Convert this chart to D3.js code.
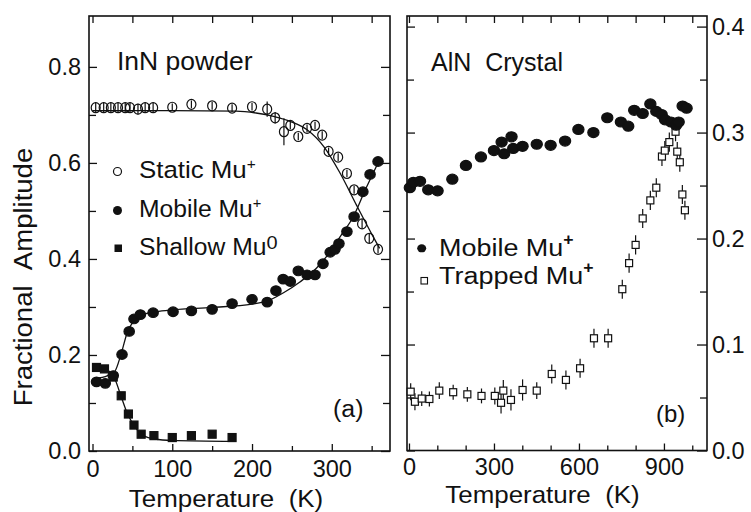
<!DOCTYPE html>
<html>
<head>
<meta charset="utf-8">
<script src="https://cdn.jsdelivr.net/npm/d3@7"></script>
<style>
  body { margin: 0; background: #fff; }
  svg { display: block; font-family: "Liberation Sans", Arial, Helvetica, sans-serif; }
  text { fill: #111; }
</style>
</head>
<body>
<svg width="751" height="512"></svg>
<script>
// (a) InN powder
const staticT   = [4, 14, 23, 32, 41, 47, 57, 66, 76, 100, 124, 150, 175, 200, 219, 229, 240, 248, 258, 269, 279, 288, 296, 308, 319, 328, 338, 347, 358]
const staticAmp = [.715, .715, .715, .715, .715, .715, .712, .715, .715, .716, .722, .719, .714, .717, .712, .694, .665, .678, .655, .672, .678, .658, .624, .612, .578, .544, .473, .443, .420]
const staticErr = [.011, .011, .011, .011, .011, .011, .011, .011, .011, .008, .008, .008, .008, .008, .016, .012, .028, .008, .008, .008, .008, .008, .008, .008, .008, .008, .01, .01, .008]

const mobileAT   = [5, 16, 26, 37, 46, 52, 60, 76, 101, 124, 150, 175, 200, 219, 230, 239, 248, 258, 269, 279, 289, 298, 304, 309, 319, 328, 339, 348, 358]
const mobileAAmp = [.144, .141, .157, .201, .249, .275, .284, .288, .290, .292, .295, .307, .316, .310, .334, .358, .353, .375, .367, .367, .390, .414, .420, .432, .457, .488, .540, .576, .603]

const shallowT   = [5, 15, 26, 36, 45, 52, 61, 77, 100, 124, 150, 175]
const shallowAmp = [.174, .171, .154, .115, .077, .054, .035, .032, .028, .032, .035, .028]

const staticFitT   = [0, 100, 180, 205, 227, 250, 269, 290, 310, 331, 352, 360]
const staticFitAmp = [.709, .709, .708, .704, .697, .685, .669, .634, .580, .512, .446, .422]
const mobileFitT   = [3, 19, 28, 36, 44, 51, 61, 80, 100, 150, 200, 220, 240, 260, 281, 298, 312, 327, 342, 358]
const mobileFitAmp = [.151, .157, .166, .203, .249, .269, .283, .290, .294, .299, .306, .313, .330, .352, .381, .415, .450, .488, .544, .600]
const shallowFitT   = [8, 20, 28, 36, 44, 53, 65, 78, 100, 177]
const shallowFitAmp = [.173, .167, .150, .113, .077, .051, .031, .025, .022, .020]

// (b) AlN crystal
const mobileBT   = [3, 15, 39, 68, 101, 153, 201, 254, 300, 327, 336, 362, 368, 401, 451, 500, 551, 598, 651, 700, 748, 774, 795, 825, 852, 873, 892, 904, 925, 943, 952, 966, 980]
const mobileBAmp = [.248, .253, .254, .246, .245, .256, .269, .277, .283, .291, .280, .296, .285, .287, .289, .288, .292, .303, .300, .314, .310, .306, .321, .318, .327, .320, .317, .312, .310, .307, .310, .325, .323]

const trappedBT   = [6, 21, 45, 72, 107, 156, 206, 256, 303, 325, 333, 360, 401, 451, 504, 554, 604, 653, 703, 753, 777, 800, 825, 852, 873, 893, 903, 919, 941, 947, 956, 965, 974]
const trappedBAmp = [.0555, .046, .049, .0486, .0565, .055, .053, .0515, .0515, .045, .0565, .0477, .0571, .0565, .0722, .0666, .0776, .1059, .1059, .1522, .1768, .194, .219, .236, .248, .2774, .283, .291, .3008, .282, .272, .2416, .2267]
const trappedBErr = [.008, .008, .007, .007, .008, .007, .007, .007, .008, .01, .01, .01, .01, .008, .009, .009, .009, .009, .009, .009, .009, .009, .009, .009, .009, .009, .009, .009, .009, .009, .009, .009, .009]

const xTicksA = [0, 100, 200, 300]
const xMinorA = [50, 150, 250, 350]
const yTicksA = [0, 0.2, 0.4, 0.6, 0.8]
const yMinorA = [0.1, 0.3, 0.5, 0.7]
const xTicksB = [0, 300, 600, 900]
const xMinorB = [100, 200, 400, 500, 700, 800, 1000]
const yTicksB = [0, 0.1, 0.2, 0.3, 0.4]
const yMinorB = [0.05, 0.15, 0.25, 0.35]

const ink = '#111'
const svg = d3.select('svg')

const xA = d3.scaleLinear().domain([-4.4, 373]).range([89, 390])
const yA = d3.scaleLinear().domain([0, 0.906]).range([451, 16])
const xB = d3.scaleLinear().domain([-7, 1052]).range([407, 707])
const yB = d3.scaleLinear().domain([0, 0.41]).range([450.5, 16])

const zip = (a, b, c) => a.map((t, i) => ({ t, v: b[i], e: c ? c[i] : 0 }))

function axisSet (x, y, opt) {
  const [x0, x1] = x.range(), [y0, y1] = y.range()
  const fmtY = d3.format('.1f')

  const tickAxis = (axis, tr, vals, size, labels) => {
    const g = svg.append('g').attr('transform', tr)
      .call(axis.tickValues(vals).tickSize(-size).tickSizeOuter(0)
        .tickFormat(labels || ''))
    g.select('.domain').remove()
    g.selectAll('line').attr('stroke', ink).attr('stroke-width', 1.3)
    g.selectAll('text').attr('font-size', 23.5).attr('font-family', null).attr('fill', ink)
    return g
  }

  const b = tickAxis(d3.axisBottom(x).tickPadding(9), `translate(0,${y0})`, opt.xt, 7, d3.format('d'))
  tickAxis(d3.axisBottom(x), `translate(0,${y0})`, opt.xm, 5)
  tickAxis(d3.axisTop(x), `translate(0,${y1})`, opt.xt.concat(opt.xm), 7)

  if (opt.labelsLeft) {
    tickAxis(d3.axisLeft(y).tickPadding(8), `translate(${x0},0)`, opt.yt, 8, fmtY)
    tickAxis(d3.axisRight(y), `translate(${x1},0)`, opt.yt, 9)
  } else {
    tickAxis(d3.axisLeft(y), `translate(${x0},0)`, opt.yt, 8)
    tickAxis(d3.axisRight(y).tickPadding(5), `translate(${x1},0)`, opt.yt, 10, fmtY)
  }
  tickAxis(d3.axisLeft(y), `translate(${x0},0)`, opt.ym, 7)
  tickAxis(d3.axisRight(y), `translate(${x1},0)`, opt.ym, 7)

  b.selectAll('text').attr('dy', null).attr('y', opt.xLabelBase)

  svg.append('rect')
    .attr('x', x0).attr('y', y1)
    .attr('width', x1 - x0).attr('height', y0 - y1)
    .attr('fill', 'none').attr('stroke', ink).attr('stroke-width', 1.6)
}

function label (x, y, size, sx, anchor, parts) {
  const t = svg.append('text')
    .attr('transform', `translate(${x},${y}) scale(${sx},1)`)
    .attr('font-size', size)
    .attr('text-anchor', anchor || 'start')
  parts.forEach(p => {
    const s = t.append('tspan').text(p.s)
    if (p.size) s.attr('font-size', p.size)
    if (p.dy) s.attr('dy', p.dy)
    if (p.bold) s.attr('font-weight', 'bold')
  })
  return t
}

function fitLine (x, y, ts, vs) {
  svg.append('path')
    .datum(zip(ts, vs))
    .attr('fill', 'none')
    .attr('stroke', ink)
    .attr('stroke-width', 1.3)
    .attr('d', d3.line().x(d => x(d.t)).y(d => y(d.v)).curve(d3.curveMonotoneX))
}

function errorBars (x, y, data) {
  svg.append('g').selectAll('line')
    .data(data)
    .join('line')
    .attr('x1', d => x(d.t)).attr('x2', d => x(d.t))
    .attr('y1', d => y(d.v - d.e)).attr('y2', d => y(d.v + d.e))
    .attr('stroke', ink).attr('stroke-width', 1.2)
}

function circles (x, y, data, rx, ry, filled) {
  svg.append('g').selectAll('ellipse')
    .data(data)
    .join('ellipse')
    .attr('cx', d => x(d.t)).attr('cy', d => y(d.v))
    .attr('rx', rx).attr('ry', ry)
    .attr('fill', filled ? ink : 'none')
    .attr('stroke', ink).attr('stroke-width', 1.2)
}

function squares (x, y, data, s, filled) {
  svg.append('g').selectAll('rect')
    .data(data)
    .join('rect')
    .attr('x', d => x(d.t) - s / 2).attr('y', d => y(d.v) - s / 2)
    .attr('width', s).attr('height', s)
    .attr('fill', filled ? ink : '#fff')
    .attr('stroke', ink).attr('stroke-width', 1.2)
}

// panel (a)
axisSet(xA, yA, { xt: xTicksA, xm: xMinorA, yt: yTicksA, ym: yMinorA, labelsLeft: true, xLabelBase: 25.5 })

fitLine(xA, yA, staticFitT, staticFitAmp)
fitLine(xA, yA, mobileFitT, mobileFitAmp)
fitLine(xA, yA, shallowFitT, shallowFitAmp)

const staticData = zip(staticT, staticAmp, staticErr)
errorBars(xA, yA, staticData)
circles(xA, yA, staticData, 4.5, 5, false)
circles(xA, yA, zip(mobileAT, mobileAAmp), 5.2, 4.8, true)
squares(xA, yA, zip(shallowT, shallowAmp), 8, true)

label(117, 70, 25, 1.06, 'start', [{ s: 'InN powder' }])
label(333, 417, 23.5, 1.06, 'start', [{ s: '(a)' }])

svg.append('circle').attr('cx', 117.5).attr('cy', 171.5).attr('r', 4)
  .attr('fill', 'none').attr('stroke', ink).attr('stroke-width', 1.2)
svg.append('circle').attr('cx', 117.5).attr('cy', 210.5).attr('r', 4.5).attr('fill', ink)
svg.append('rect').attr('x', 114.5).attr('y', 244.5).attr('width', 7.5).attr('height', 7.5).attr('fill', ink)

label(139, 178, 23.5, 1.1, 'start', [{ s: 'Static Mu' }, { s: '+', size: 14, dy: -9 }])
label(139, 217, 23.5, 1.05, 'start', [{ s: 'Mobile Mu' }, { s: '+', size: 14, dy: -9 }])
label(139, 255, 23.5, 1.05, 'start', [{ s: 'Shallow Mu' }, { s: '0', size: 19, dy: -6 }])

label(226, 506.5, 24, 1.08, 'middle', [{ s: 'Temperature\u00a0\u00a0(K)' }])
svg.append('text')
  .attr('transform', 'translate(31.5,277) rotate(-90) scale(1.08,1)')
  .attr('font-size', 25.5)
  .attr('text-anchor', 'middle')
  .text('Fractional\u00a0\u00a0Amplitude')

// panel (b)
axisSet(xB, yB, { xt: xTicksB, xm: xMinorB, yt: yTicksB, ym: yMinorB, labelsLeft: false, xLabelBase: 24 })

const trappedData = zip(trappedBT, trappedBAmp, trappedBErr)
errorBars(xB, yB, trappedData)
squares(xB, yB, trappedData, 7, false)
circles(xB, yB, zip(mobileBT, mobileBAmp), 5.6, 5, true)

label(431, 71, 25, 1, 'start', [{ s: 'AlN\u00a0\u00a0Crystal' }])
label(656, 422, 23.5, 1.02, 'start', [{ s: '(b)' }])

svg.append('ellipse').attr('cx', 421.7).attr('cy', 248.3).attr('rx', 4.5).attr('ry', 4).attr('fill', ink)
svg.append('rect').attr('x', 421).attr('y', 277.5).attr('width', 6.5).attr('height', 6.5)
  .attr('fill', '#fff').attr('stroke', ink).attr('stroke-width', 1.1)
label(439, 256, 24.5, 1.1, 'start', [{ s: 'Mobile Mu' }, { s: '+', size: 16, dy: -11, bold: true }])
label(439, 283.5, 24.5, 1.1, 'start', [{ s: 'Trapped Mu' }, { s: '+', size: 16, dy: -11, bold: true }])

label(542.5, 502.5, 24, 1.08, 'middle', [{ s: 'Temperature\u00a0\u00a0(K)' }])
</script>
</body>
</html>
